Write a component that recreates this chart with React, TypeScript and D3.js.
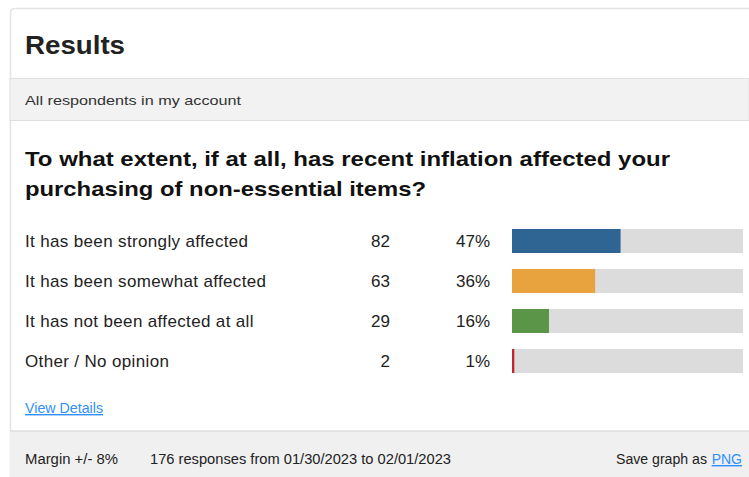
import React from "react";
import * as d3 from "d3";

const categories = [
  "It has been strongly affected",
  "It has been somewhat affected",
  "It has not been affected at all",
  "Other / No opinion",
];
const counts = [82, 63, 29, 2];
const percents = [47, 36, 16, 1];
const colors = ["#2f6593", "#e8a23e", "#5b9547", "#c0272d"];

const W = 749;
const H = 477;
const FONT = "'Liberation Sans', Arial, Helvetica, sans-serif";

export default function App() {
  const x = d3.scaleLinear().domain([0, 100]).range([512, 743]);
  const y = d3
    .scaleBand<string>()
    .domain(categories)
    .range([221, 381])
    .paddingInner(0.4)
    .paddingOuter(0.2);
  const bh = y.bandwidth();

  return (
    <svg
      width={W}
      height={H}
      style={{ position: "absolute", left: 0, top: 0, display: "block" }}
      fontFamily={FONT}
    >
      <rect x={0} y={0} width={W} height={H} fill="#ffffff" />
      {/* card outline */}
      <path
        d={`M10.5,${H} L10.5,13 Q10.5,8.5 15,8.5 L${W},8.5`}
        fill="none"
        stroke="#e4e4e4"
        strokeWidth={1.5}
      />
      <text x={25} y={54} fontSize={26} fontWeight="bold" fill="#222" textLength={100} lengthAdjust="spacingAndGlyphs">
        Results
      </text>
      {/* subheader band */}
      <rect x={10} y={78.5} width={W - 10} height={42} fill="#f2f2f2" stroke="#e0e0e0" />
      <text x={25} y={105} fontSize={13.5} fill="#333" textLength={216} lengthAdjust="spacingAndGlyphs">
        All respondents in my account
      </text>
      {/* question */}
      <text x={25} y={166} fontSize={21} fontWeight="bold" fill="#111" textLength={645} lengthAdjust="spacingAndGlyphs">
        To what extent, if at all, has recent inflation affected your
      </text>
      <text x={25} y={196} fontSize={21} fontWeight="bold" fill="#111" textLength={401} lengthAdjust="spacingAndGlyphs">
        purchasing of non-essential items?
      </text>
      {/* rows */}
      {categories.map((c, i) => {
        const yy = y(c) as number;
        const cy = yy + bh / 2;
        return (
          <g key={c}>
            <text x={25} y={cy + 6} fontSize={17} letterSpacing={0.35} fill="#222">
              {c}
            </text>
            <text x={390} y={cy + 6} fontSize={17} fill="#222" textAnchor="end">
              {counts[i]}
            </text>
            <text x={490} y={cy + 6} fontSize={17} fill="#222" textAnchor="end">
              {percents[i]}%
            </text>
            <rect x={x(0)} y={yy} width={x(100) - x(0)} height={bh} fill="#dcdcdc" />
            <rect x={x(0)} y={yy} width={x(percents[i]) - x(0)} height={bh} fill={colors[i]} />
          </g>
        );
      })}
      {/* view details */}
      <text x={25} y={413} fontSize={14} fill="#2f8fff" textDecoration="underline" textLength={78} lengthAdjust="spacingAndGlyphs">
        View Details
      </text>
      {/* footer */}
      <rect x={10} y={431} width={W - 10} height={H - 431} fill="#f0f0f0" />
      <line x1={10} x2={W} y1={431} y2={431} stroke="#dcdcdc" strokeWidth={1.5} />
      <text x={25} y={464} fontSize={14} fill="#222" textLength={93} lengthAdjust="spacingAndGlyphs">
        Margin +/- 8%
      </text>
      <text x={150} y={464} fontSize={14} fill="#222" textLength={301} lengthAdjust="spacingAndGlyphs">
        176 responses from 01/30/2023 to 02/01/2023
      </text>
      <text x={616} y={464} fontSize={14} fill="#222" textLength={91} lengthAdjust="spacingAndGlyphs">
        Save graph as
      </text>
      <text x={742} y={464} fontSize={14} fill="#2f8fff" textAnchor="end" textDecoration="underline">
        PNG
      </text>
    </svg>
  );
}
